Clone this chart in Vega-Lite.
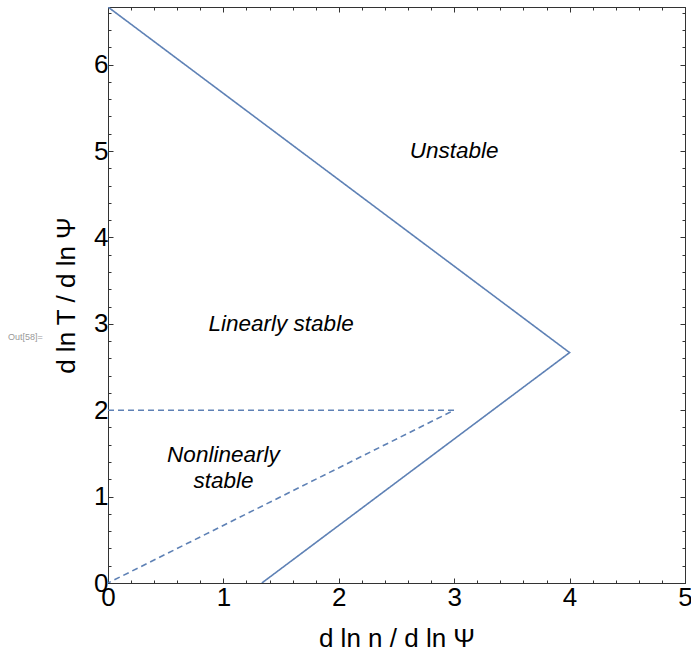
{
  "$schema": "https://vega.github.io/schema/vega-lite/v6.json",
  "width": 577,
  "height": 576,
  "autosize": {"type": "none"},
  "padding": {"left": 108, "top": 7, "right": 6, "bottom": 68},
  "background": "white",
  "config": {
    "font": "Liberation Sans",
    "view": {"stroke": "#333", "strokeWidth": 1},
    "axis": {
      "domainColor": "#333",
      "tickColor": "#333",
      "labelColor": "black",
      "titleColor": "black",
      "labelFontSize": 26,
      "titleFontSize": 26,
      "titleFontWeight": "normal",
      "grid": false
    }
  },
  "datasets": {
    "curves": [
      {"curve": "solid", "order": 1, "x": 0, "y": 6.6667},
      {"curve": "solid", "order": 2, "x": 4, "y": 2.6667},
      {"curve": "solid", "order": 3, "x": 1.3333, "y": 0},
      {"curve": "dashed", "order": 1, "x": 0, "y": 2},
      {"curve": "dashed", "order": 2, "x": 3, "y": 2},
      {"curve": "dashed", "order": 3, "x": 0, "y": 0}
    ],
    "regions": [
      {"label": "Unstable", "x": 3, "y": 5},
      {"label": "Linearly stable", "x": 1.5, "y": 3},
      {"label": "Nonlinearly\nstable", "x": 1, "y": 1.48}
    ],
    "cell": [
      {"label": "Out[58]=", "x": -0.867, "y": 2.85}
    ]
  },
  "resolve": {"axis": {"x": "independent", "y": "independent"}},
  "layer": [
    {
      "data": {"name": "curves"},
      "mark": {"type": "line", "color": "#5E81B5", "strokeWidth": 1.6, "clip": true},
      "encoding": {
        "x": {
          "field": "x", "type": "quantitative",
          "scale": {"domain": [0, 5], "nice": false, "zero": false},
          "axis": {
            "orient": "bottom",
            "title": "d ln n / d ln Ψ",
            "values": [0,0.2,0.4,0.6,0.8,1,1.2,1.4,1.6,1.8,2,2.2,2.4,2.6,2.8,3,3.2,3.4,3.6,3.8,4,4.2,4.4,4.6,4.8,5],
            "labelExpr": "abs(datum.value - round(datum.value)) < 0.001 ? format(datum.value, 'd') : ''",
            "tickSize": {"condition": {"test": "abs(datum.value - round(datum.value)) < 0.001", "value": -5}, "value": -3},
            "labelPadding": 6,
            "labelFlush": false,
            "labelOverlap": false,
            "titlePadding": 13
          }
        },
        "y": {
          "field": "y", "type": "quantitative",
          "scale": {"domain": [0, 6.6667], "nice": false, "zero": false},
          "axis": {
            "orient": "left",
            "title": "d ln T / d ln Ψ",
            "values": [0,0.2,0.4,0.6,0.8,1,1.2,1.4,1.6,1.8,2,2.2,2.4,2.6,2.8,3,3.2,3.4,3.6,3.8,4,4.2,4.4,4.6,4.8,5,5.2,5.4,5.6,5.8,6,6.2,6.4,6.6],
            "labelExpr": "abs(datum.value - round(datum.value)) < 0.001 ? format(datum.value, 'd') : ''",
            "tickSize": {"condition": {"test": "abs(datum.value - round(datum.value)) < 0.001", "value": -5}, "value": -3},
            "labelPadding": 5,
            "labelFlush": false,
            "labelOverlap": false,
            "titlePadding": 14
          }
        },
        "order": {"field": "order", "type": "quantitative"},
        "strokeDash": {
          "field": "curve", "type": "nominal",
          "scale": {"domain": ["solid", "dashed"], "range": [[1, 0], [6, 4]]},
          "legend": null
        }
      }
    },
    {
      "data": {"name": "regions"},
      "mark": {"type": "text", "font": "Liberation Sans", "fontSize": 22.5, "fontStyle": "italic", "color": "black", "align": "center", "baseline": "middle", "lineBreak": "\n", "lineHeight": 26},
      "encoding": {
        "x": {
          "field": "x", "type": "quantitative",
          "axis": {
            "orient": "top", "title": null, "labels": false,
            "values": [0,0.2,0.4,0.6,0.8,1,1.2,1.4,1.6,1.8,2,2.2,2.4,2.6,2.8,3,3.2,3.4,3.6,3.8,4,4.2,4.4,4.6,4.8,5],
            "tickSize": {"condition": {"test": "abs(datum.value - round(datum.value)) < 0.001", "value": -5}, "value": -3}
          }
        },
        "y": {
          "field": "y", "type": "quantitative",
          "axis": {
            "orient": "right", "title": null, "labels": false,
            "values": [0,0.2,0.4,0.6,0.8,1,1.2,1.4,1.6,1.8,2,2.2,2.4,2.6,2.8,3,3.2,3.4,3.6,3.8,4,4.2,4.4,4.6,4.8,5,5.2,5.4,5.6,5.8,6,6.2,6.4,6.6],
            "tickSize": {"condition": {"test": "abs(datum.value - round(datum.value)) < 0.001", "value": -5}, "value": -3}
          }
        },
        "text": {"field": "label", "type": "nominal"}
      }
    },
    {
      "data": {"name": "cell"},
      "mark": {"type": "text", "font": "Liberation Sans", "fontSize": 9, "color": "#999999", "align": "left", "baseline": "middle"},
      "encoding": {
        "x": {"field": "x", "type": "quantitative", "axis": null},
        "y": {"field": "y", "type": "quantitative", "axis": null},
        "text": {"field": "label", "type": "nominal"}
      }
    }
  ]
}
